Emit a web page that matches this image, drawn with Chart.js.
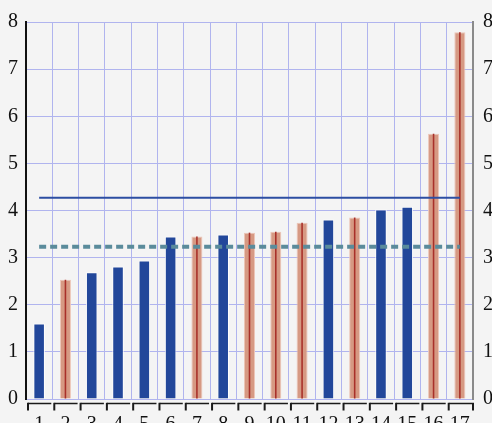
<!DOCTYPE html>
<html>
<head>
<meta charset="utf-8">
<script src="https://cdn.jsdelivr.net/npm/chart.js@4"></script>
<style>
  html, body { margin: 0; padding: 0; background: #f4f4f4; }
  #wrap { width: 492px; height: 423px; }
</style>
</head>
<body>
<div id="wrap"><canvas id="chart"></canvas></div>
<script>
const categories = ["1","2","3","4","5","6","7","8","9","10","11","12","13","14","15","16","17"];
// blue group values (null = not in group)
const blueValues   = [1.6, null, 2.69, 2.81, 2.94, 3.45, null, 3.49, null, null, null, 3.81, null, 4.02, 4.08, null, null];
// salmon group values
const salmonValues = [null, 2.53, null, null, null, null, 3.45, null, 3.53, 3.55, 3.74, null, 3.85, null, null, 5.63, 7.78];
const solidLevel = 4.27;
const dashedLevel = 3.23;
const yTicks = [0, 1, 2, 3, 4, 5, 6, 7, 8];

const gridColor = "#b0b4ee";
const serif = "'Liberation Serif', 'DejaVu Serif', serif";

// bracket-style ticks under the x axis
const bracketTicks = {
  id: "bracketTicks",
  afterDraw: (chart) => {
    const x = chart.scales.x;
    const ctx = chart.ctx;
    const half = (x.getPixelForValue(1) - x.getPixelForValue(0)) / 2;
    const y = chart.chartArea.bottom + 4.5;
    ctx.save();
    ctx.strokeStyle = "#1a1a1a";
    categories.forEach((c, i) => {
      const left = x.getPixelForValue(i) - half;
      const right = x.getPixelForValue(i) + half;
      ctx.lineWidth = 1.5;
      ctx.beginPath();
      ctx.moveTo(left + 2, y);
      ctx.lineTo(right - 1, y);
      ctx.stroke();
      ctx.lineWidth = 2;
      ctx.beginPath();
      ctx.moveTo(left + 2, y - 0.7);
      ctx.lineTo(left + 2, y + 7);
      ctx.stroke();
      if (i === categories.length - 1) {
        ctx.beginPath();
        ctx.moveTo(right, y - 0.7);
        ctx.lineTo(right, y + 7);
        ctx.stroke();
      }
    });
    ctx.restore();
  },
};

const ctx = document.getElementById("chart").getContext("2d");
new Chart(ctx, {
  data: {
    labels: categories,
    datasets: [
      {
        type: "line",
        data: [{ x: "1", y: solidLevel }, { x: "17", y: solidLevel }],
        borderColor: "#2c4ea2",
        borderWidth: 2,
        pointRadius: 0,
        order: 0,
        yAxisID: "y",
      },
      {
        type: "line",
        data: [{ x: "1", y: dashedLevel }, { x: "17", y: dashedLevel }],
        borderColor: "#5a8b9b",
        borderWidth: 4,
        borderDash: [7, 4],
        pointRadius: 0,
        order: 0,
        yAxisID: "y",
      },
      {
        type: "bar",
        data: salmonValues,
        backgroundColor: "#a8302a",
        borderWidth: 0,
        barPercentage: 0.06,
        categoryPercentage: 1,
        grouped: false,
        order: 1,
        yAxisID: "y",
      },
      {
        type: "bar",
        data: blueValues,
        backgroundColor: "#22479a",
        borderColor: "rgba(255,255,255,0.85)",
        borderWidth: 1,
        barPercentage: 0.44,
        categoryPercentage: 1,
        grouped: false,
        order: 2,
        yAxisID: "y",
      },
      {
        type: "bar",
        data: salmonValues,
        backgroundColor: "#d69983",
        borderColor: "#ecc6b8",
        borderWidth: 1,
        barPercentage: 0.42,
        categoryPercentage: 1,
        grouped: false,
        order: 2,
        yAxisID: "y",
      },
    ],
  },
  options: {
    responsive: true,
    maintainAspectRatio: false,
    animation: false,
    layout: { padding: { top: 22, left: 0, right: 0, bottom: 0 } },
    plugins: { legend: { display: false }, tooltip: { enabled: false } },
    scales: {
      x: {
        type: "category",
        offset: true,
        grid: { color: gridColor, lineWidth: 1, offset: true, drawTicks: false },
        border: { display: false },
        ticks: { color: "#111", font: { family: serif, size: 20 }, padding: 14, maxRotation: 0, autoSkip: false },
        afterFit: (s) => { s.height = 24; },
      },
      y: {
        position: "left",
        min: 0,
        max: 8,
        afterBuildTicks: (s) => { s.ticks = yTicks.map((v) => ({ value: v })); },
        grid: { color: gridColor, lineWidth: 1, drawTicks: false },
        border: { display: true, color: "#111", width: 2 },
        ticks: { color: "#111", font: { family: serif, size: 20 }, padding: 8 },
        afterFit: (s) => { s.width = 26; },
      },
      y2: {
        position: "right",
        min: 0,
        max: 8,
        afterBuildTicks: (s) => { s.ticks = yTicks.map((v) => ({ value: v })); },
        grid: { display: false, drawTicks: false },
        border: { display: true, color: "#8a8a8a", width: 2 },
        ticks: { color: "#111", font: { family: serif, size: 20 }, padding: 10 },
        afterFit: (s) => { s.width = 19; },
      },
    },
  },
  plugins: [bracketTicks],
});
</script>
</body>
</html>
